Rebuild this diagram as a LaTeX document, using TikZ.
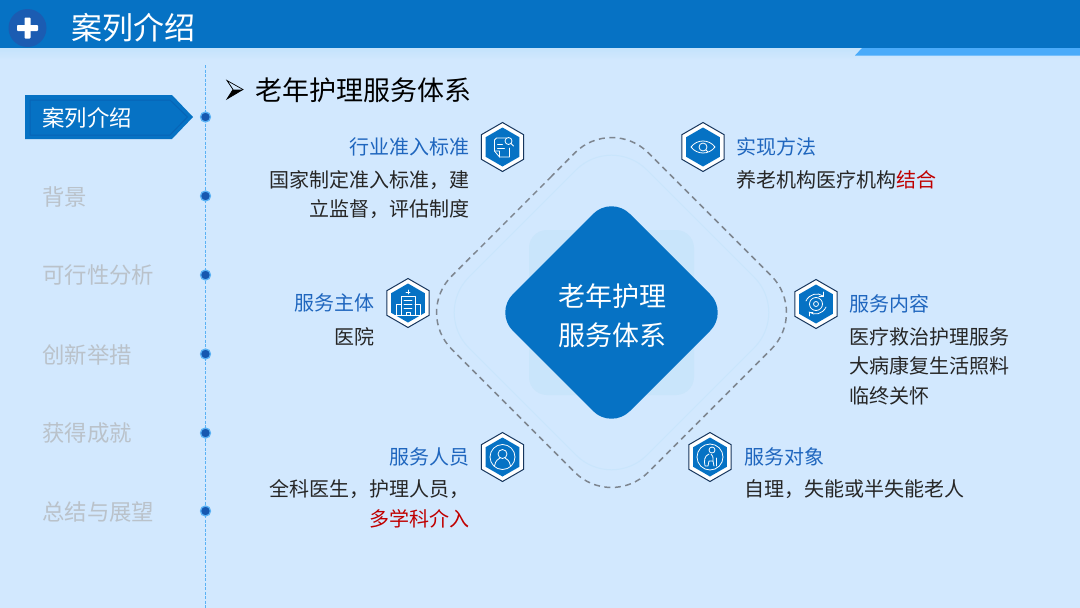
\documentclass[tikz,border=0pt]{standalone}
\usepackage{fontspec}
\setmainfont{Noto Sans CJK SC}
\usetikzlibrary{shapes.geometric}
\usetikzlibrary{calc}
\definecolor{pagebg}{RGB}{210,232,254}
\definecolor{stripbg}{RGB}{196,227,252}
\definecolor{mainblue}{RGB}{6,114,196}
\definecolor{darkblue}{RGB}{8,100,182}
\definecolor{lightband}{RGB}{74,171,250}
\definecolor{plusblue}{RGB}{27,92,178}
\definecolor{dotblue}{RGB}{22,88,176}
\definecolor{linkblue}{RGB}{90,178,245}
\definecolor{headblue}{RGB}{31,102,190}
\definecolor{hexnavy}{RGB}{23,54,93}
\definecolor{softgrey}{RGB}{186,194,202}
\definecolor{dashgrey}{RGB}{126,134,144}
\definecolor{ringblue}{RGB}{201,229,252}
\definecolor{softblue}{RGB}{201,229,251}
\definecolor{alertred}{RGB}{192,0,0}
\tikzset{
  txt/.style={inner sep=0pt, outer sep=0pt, font=\fontsize{20}{24}\selectfont},
  headtxt/.style={txt, text=headblue},
  bodytxt/.style={txt, text=black!85},
  sidetxt/.style={inner sep=0pt, anchor=west, text=softgrey, font=\fontsize{22.4}{26}\selectfont},
  hexouter/.style={regular polygon, regular polygon sides=6, regular polygon rotate=30,
    minimum size=49pt, inner sep=0pt, draw=hexnavy, line width=1pt, fill=white},
  hexinner/.style={regular polygon, regular polygon sides=6, regular polygon rotate=30,
    minimum size=39pt, inner sep=0pt, fill=mainblue},
  icon/.style={draw=white, line width=0.8pt, line join=round, line cap=round},
  sidedot/.style={circle, minimum size=10pt, inner sep=0pt, fill=dotblue, draw=linkblue, line width=1.3pt}
}

\begin{document}
\begin{tikzpicture}[x=1pt,y=-1pt]

\useasboundingbox (0,0) rectangle (1080,608);

%---------------------------------------
% Background and header
%---------------------------------------
\fill[pagebg] (0,0) rectangle (1080,608);
\shade[top color=stripbg, bottom color=pagebg] (0,48) rectangle (1080,60);
\fill[mainblue] (0,0) rectangle (1080,48);
\fill[lightband] (855,55.5) -- (862,48) -- (1080,48) -- (1080,55.5) -- cycle;

\node[circle, fill=plusblue, minimum size=38pt, inner sep=0pt] (plusdisc) at (27.5,28) {};
\fill[white, rounded corners=0.8pt] (24.5,17.5) rectangle (30.5,38.5);
\fill[white, rounded corners=0.8pt] (17,25) rectangle (38,31);

\node[anchor=west, inner sep=0pt, text=white, font=\fontsize{31}{36}\selectfont] (pagetitle) at (71,28) {案列介绍};

%---------------------------------------
% Sidebar
%---------------------------------------
\coordinate (railtop) at (205.5,65);
\coordinate (railend) at (205.5,608);
\draw[linkblue, line width=1.2pt, dash pattern=on 3pt off 1.5pt] (railtop) -- (railend);

\fill[mainblue] (25,95) -- (172,95) -- (193,117) -- (172,139) -- (25,139) -- cycle;
\draw[darkblue, line width=1pt] (30,100) -- (170,100) -- (187.5,117) -- (170,135) -- (30,135) -- cycle;

\node[sidetxt, text=white] (sideactive) at (42,117.5) {案列介绍};
\node[sidetxt] (sideback) at (42,196.5) {背景};
\node[sidetxt] (sidefeas) at (42,275.5) {可行性分析};
\node[sidetxt] (sidenew) at (42,354.5) {创新举措};
\node[sidetxt] (sidegain) at (42,433.5) {获得成就};
\node[sidetxt] (sidesum) at (42,511.5) {总结与展望};

\node[sidedot] (dotone) at (205.5,117) {};
\node[sidedot] (dottwo) at (205.5,196) {};
\node[sidedot] (dotthree) at (205.5,275) {};
\node[sidedot] (dotfour) at (205.5,354) {};
\node[sidedot] (dotfive) at (205.5,433) {};
\node[sidedot] (dotsix) at (205.5,511) {};

%---------------------------------------
% Section heading
%---------------------------------------
\draw[black, line width=0.7pt, line join=miter] (227,80.5) -- (243,89.5) -- (227,99) -- (233,89.5) -- cycle;
\fill[black] (243,89.5) -- (227,99) -- (233,89.5) -- cycle;
\node[anchor=west, inner sep=0pt, font=\fontsize{27}{32}\selectfont] (sectitle) at (255,90) {老年护理服务体系};

%====================================================
% Centre diamonds
%====================================================
\def\Cx{611.5}
\def\Cy{312.5}

% Dashed outer ring
\draw[dashgrey, line width=1.5pt, dash pattern=on 6pt off 4.5pt, rounded corners=52pt]
  (\Cx-98,\Cy-98) -- (\Cx,\Cy-196.5) -- (\Cx+196.5,\Cy) -- (\Cx,\Cy+196.5) -- (\Cx-196.5,\Cy) -- cycle;

% Thin inner ring
\draw[ringblue, line width=1pt, rounded corners=50pt]
  (\Cx-89,\Cy-89) -- (\Cx,\Cy-178) -- (\Cx+178,\Cy) -- (\Cx,\Cy+178) -- (\Cx-178,\Cy) -- cycle;

% Soft square behind the diamond
\fill[softblue, rounded corners=18pt] (529,230) rectangle (694,395);

% Blue diamond
\fill[mainblue, rounded corners=26pt]
  (\Cx-58.5,\Cy-58.5) -- (\Cx,\Cy-117) -- (\Cx+117,\Cy) -- (\Cx,\Cy+117) -- (\Cx-117,\Cy) -- cycle;

\node[inner sep=0pt, text=white, font=\fontsize{27}{32}\selectfont] (centreone) at (\Cx+0.5,296) {老年护理};
\node[inner sep=0pt, text=white, font=\fontsize{27}{32}\selectfont] (centretwo) at (\Cx+0.5,335) {服务体系};

%====================================================
% Top left: entry standard
%====================================================
\node[hexouter] (hexentry) at (502.5,147) {};
\node[hexinner] (hexentryin) at (hexentry.center) {};
\begin{scope}[shift={(hexentry.center)}]
  \draw[icon] (4,-9) -- (-6,-9) -- (-8,-7) -- (-8,4) -- (-3,4) -- (-3,10) -- (7,10) -- (7,1);
  \draw[icon] (-8,4) -- (-3,10);
  \draw[icon] (-5,-3) -- (0,-3);
  \draw[icon] (-5,1) -- (2,1);
  \draw[icon] (6,-6) circle (3.5);
  \draw[icon] (8.5,-3.5) -- (11,-1);
\end{scope}
\node[headtxt, anchor=east] (entryhead) at (469,147) {行业准入标准};
\node[bodytxt, anchor=east] (entryone) at (469,180) {国家制定准入标准，建};
\node[bodytxt, anchor=east] (entrytwo) at (469,209) {立监督，评估制度};

%====================================================
% Top right: method
%====================================================
\node[hexouter] (hexmethod) at (703,147) {};
\node[hexinner] (hexmethodin) at (hexmethod.center) {};
\begin{scope}[shift={(hexmethod.center)}]
  \draw[icon] (-12,0) .. controls (-6,-8) and (6,-8) .. (12,0) .. controls (6,8) and (-6,8) .. (-12,0) -- cycle;
  \draw[icon] (0,0) circle (4);
  \draw[icon] (3,3) -- (4.5,4.5);
\end{scope}
\node[headtxt, anchor=west] (methodhead) at (736.5,147) {实现方法};
\node[bodytxt, anchor=west] (methodone) at (736.5,180) {养老机构医疗机构\textcolor{alertred}{结合}};

%====================================================
% Left: provider
%====================================================
\node[hexouter] (hexmain) at (408,303) {};
\node[hexinner] (hexmainin) at (hexmain.center) {};
\begin{scope}[shift={(hexmain.center)}]
  \draw[icon] (-7,12) -- (-7,-7) -- (7,-7) -- (7,12);
  \draw[icon] (-7,1) -- (-12,1) -- (-12,12);
  \draw[icon] (7,1) -- (12,1) -- (12,12);
  \draw[icon] (-13,12) -- (13,12);
  \draw[icon] (-4,-3) -- (4,-3);
  \draw[icon] (-4,1) -- (4,1);
  \draw[icon] (-4,5) -- (4,5);
  \draw[icon] (-2,12) -- (-2,9) -- (2,9) -- (2,12);
  \draw[icon] (0,-13) -- (0,-9);
  \draw[icon] (-2,-11) -- (2,-11);
\end{scope}
\node[headtxt, anchor=east] (mainhead) at (374,303) {服务主体};
\node[bodytxt, anchor=east] (mainone) at (374,337) {医院};

%====================================================
% Right: content
%====================================================
\node[hexouter] (hexcontent) at (816,304) {};
\node[hexinner] (hexcontentin) at (hexcontent.center) {};
\begin{scope}[shift={(hexcontent.center)}]
  \draw[icon] (0,0) circle (2.5);
  \draw[icon] (0,0) circle (6.5);
  \draw[icon] (-10,-3) .. controls (-7,-10) and (2,-12) .. (7,-8);
  \draw[icon] (10,3) .. controls (7,10) and (-2,12) .. (-7,8);
  \draw[icon] (7,-12) -- (7,-8) -- (3,-8);
  \draw[icon] (-7,12) -- (-7,8) -- (-3,8);
\end{scope}
\node[headtxt, anchor=west] (contenthead) at (849.5,304) {服务内容};
\node[bodytxt, anchor=west] (contentone) at (849.5,337) {医疗救治护理服务};
\node[bodytxt, anchor=west] (contenttwo) at (849.5,366) {大病康复生活照料};
\node[bodytxt, anchor=west] (contentthree) at (849.5,396) {临终关怀};

%====================================================
% Bottom left: staff
%====================================================
\node[hexouter] (hexstaff) at (502.5,457) {};
\node[hexinner] (hexstaffin) at (hexstaff.center) {};
\begin{scope}[shift={(hexstaff.center)}]
  \draw[icon] (0,0) circle (12.5);
  \draw[icon] (0,-3) circle (4.5);
  \draw[icon] (-8,9) .. controls (-7,3) and (-4,2) .. (-2.5,1);
  \draw[icon] (8,9) .. controls (7,3) and (4,2) .. (2.5,1);
\end{scope}
\node[headtxt, anchor=east] (staffhead) at (469,457) {服务人员};
\node[bodytxt, anchor=east] (staffone) at (469,489) {全科医生，护理人员，};
\node[txt, anchor=east, text=alertred] (stafftwo) at (469,519) {多学科介入};

%====================================================
% Bottom right: target group
%====================================================
\node[hexouter] (hextarget) at (710,457) {};
\node[hexinner] (hextargetin) at (hextarget.center) {};
\begin{scope}[shift={(hextarget.center)}]
  \draw[icon] (0,0) circle (13);
  \draw[icon] (2,-7) circle (3);
  \draw[icon] (-1,-3) .. controls (-6,-1) and (-6,4) .. (-5,9) -- (-2,9) -- (-1,4) -- (3,4) -- (4,9);
  \draw[icon] (1,-3) .. controls (3,-2) and (3,0) .. (3,4);
  \draw[icon] (6,1) -- (6,9);
\end{scope}
\node[headtxt, anchor=west] (targethead) at (744,457) {服务对象};
\node[bodytxt, anchor=west] (targetone) at (744,489) {自理，失能或半失能老人};

\end{tikzpicture}
\end{document}
